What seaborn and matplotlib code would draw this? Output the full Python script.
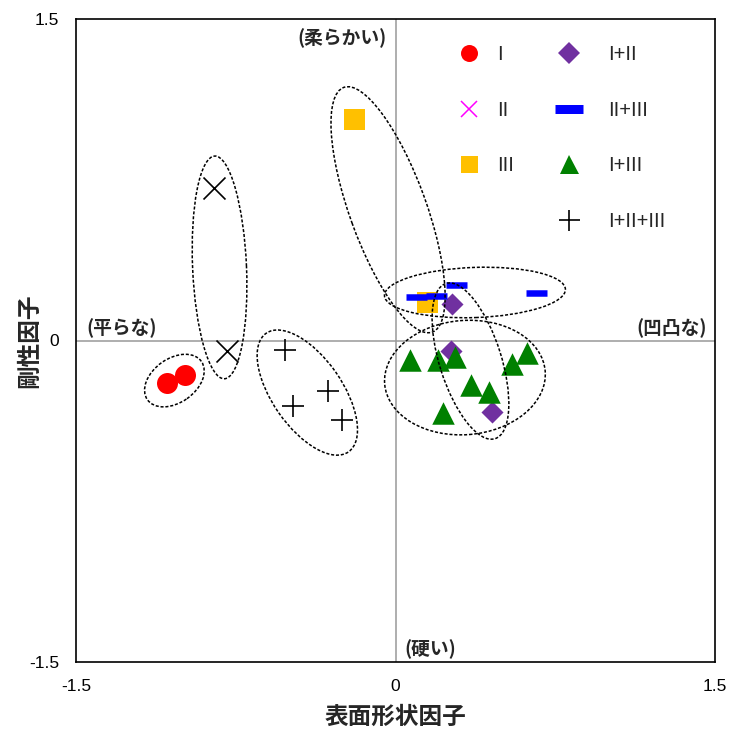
import matplotlib
matplotlib.use("Agg")
import matplotlib.pyplot as plt
from matplotlib.patches import Ellipse
from matplotlib.lines import Line2D
import seaborn as sns
import pandas as pd

sns.set_style("white")
plt.rcParams["font.family"] = ["Liberation Sans", "Noto Sans CJK JP"]
JP = "Noto Sans CJK JP"

# sample groups: factor scores (surface shape factor, rigidity factor)
g1_x = [-1.075, -0.986]
g1_y = [-0.196, -0.159]
g2_x = [-0.85, -0.793]
g2_y = [0.71, -0.047]
g3_x = [-0.197, 0.147]
g3_y = [1.033, 0.179]
g12_x = [0.266, 0.261, 0.452]
g12_y = [0.171, -0.047, -0.335]
g23_x = [0.097, 0.191, 0.282, 0.66]
g23_y = [0.202, 0.209, 0.258, 0.223]
g13_x = [0.069, 0.199, 0.277, 0.355, 0.438, 0.225, 0.546, 0.617]
g13_y = [-0.093, -0.093, -0.075, -0.207, -0.241, -0.338, -0.109, -0.058]
g123_x = [-0.521, -0.318, -0.482, -0.25]
g123_y = [-0.042, -0.237, -0.307, -0.369]

group_labels = ["I", "II", "III", "I+II", "II+III", "I+III", "I+II+III"]

# grouping ellipses: centre x, centre y, width, height, angle
ell_cx = [-1.038, -0.826, -0.414, -0.035, 0.373, 0.352, 0.326]
ell_cy = [-0.187, 0.341, -0.243, 0.610, 0.224, -0.096, -0.173]
ell_w = [0.31, 1.04, 0.675, 1.215, 0.85, 0.76, 0.756]
ell_h = [0.206, 0.253, 0.328, 0.36, 0.234, 0.29, 0.533]
ell_ang = [35, 92.5, -55, -70, 2, -72.3, 4.5]

W, H, DPI = 7.31, 7.31, 100
fig = plt.figure(figsize=(W, H), dpi=DPI)
ax = fig.add_axes([76 / 731, (731 - 662) / 731, 639 / 731, 643 / 731])

pt = 0.72  # points per pixel at 100 dpi

ax.axhline(0, color="#999999", lw=1.1, zorder=1)
ax.axvline(0, color="#999999", lw=1.1, zorder=1)

def scat(xs, ys, **kw):
    df = pd.DataFrame({"x": xs, "y": ys})
    sns.scatterplot(data=df, x="x", y="y", ax=ax, legend=False, zorder=3, **kw)

scat(g1_x, g1_y, marker="o", color="#FF0000", s=(21 * pt) ** 2, linewidth=0)
scat(g2_x, g2_y, marker="x", color="black", s=(22 * pt) ** 2, linewidth=1.2)
scat(g3_x, g3_y, marker="s", color="#FFC000", s=(21 * pt) ** 2, linewidth=0)
scat(g12_x, g12_y, marker="D", color="#7030A0", s=(15.6 * pt) ** 2, linewidth=0)
scat(g23_x, g23_y, marker="_", color="#0000FF", s=(21 * pt) ** 2, linewidth=6.5 * pt)
scat(g13_x, g13_y, marker="^", color="#008000", s=(22.5 * pt) ** 2, linewidth=0)
scat(g123_x, g123_y, marker="+", color="black", s=(22 * pt) ** 2, linewidth=1.2)

for cx, cy, w, h, a in zip(ell_cx, ell_cy, ell_w, ell_h, ell_ang):
    ax.add_patch(Ellipse((cx, cy), w, h, angle=a, fill=False, edgecolor="black",
                         lw=1.1, linestyle=(0, (2, 1.2)), zorder=4))

ax.set_xlim(-1.5, 1.5)
ax.set_ylim(-1.5, 1.5)
ticks = [-1.5, -1.0, -0.5, 0, 0.5, 1.0, 1.5]
tick_text = ["-1.5", "", "", "0", "", "", "1.5"]
ax.set_xticks(ticks)
ax.set_xticklabels(tick_text)
ax.set_yticks(ticks)
ax.set_yticklabels(tick_text)
ax.tick_params(axis="both", direction="in", length=5, width=1.1, labelsize=12.5,
               colors="black", pad=12)
for sp in ax.spines.values():
    sp.set_visible(True)
    sp.set_color("black")
    sp.set_linewidth(1.2)

ax.set_xlabel("表面形状因子", fontfamily=JP, fontweight="bold", fontsize=17, labelpad=8)
ax.set_ylabel("剛性因子", fontfamily=JP, fontweight="bold", fontsize=17)
ax.yaxis.set_label_coords(-0.055, 0.5)

ann = dict(fontfamily=JP, fontweight="bold", fontsize=13.5, va="center", zorder=5)
ax.text(-0.04, 1.411, "(柔らかい)", ha="right", **ann)
ax.text(-1.451, 0.056, "(平らな)", ha="left", **ann)
ax.text(1.46, 0.056, "(凹凸な)", ha="right", **ann)
ax.text(0.042, -1.44, "(硬い)", ha="left", **ann)

col1 = [
    Line2D([], [], ls="none", marker="o", color="#FF0000", ms=17 * pt, mew=0),
    Line2D([], [], ls="none", marker="x", color="#FF00FF", ms=16 * pt, mew=1.1),
    Line2D([], [], ls="none", marker="s", color="#FFC000", ms=17 * pt, mew=0),
]
col2 = [
    Line2D([], [], ls="none", marker="D", color="#7030A0", ms=16 * pt, mew=0),
    Line2D([], [], ls="none", marker="_", color="#0000FF", ms=28 * pt, mew=9 * pt),
    Line2D([], [], ls="none", marker="^", color="#008000", ms=19 * pt, mew=0),
    Line2D([], [], ls="none", marker="+", color="black", ms=21 * pt, mew=1.2),
]
leg_kw = dict(loc="upper left", bbox_transform=fig.transFigure, frameon=False,
              borderpad=0, borderaxespad=0, fontsize=14.5, labelspacing=1.82,
              handlelength=2.0, numpoints=1)
leg1 = ax.legend(col1, group_labels[:3], bbox_to_anchor=(449 / 731, 1 - 45 / 731),
                 handletextpad=0.4, **leg_kw)
ax.add_artist(leg1)
ax.legend(col2, group_labels[3:], bbox_to_anchor=(549 / 731, 1 - 45 / 731),
          handletextpad=0.95, **leg_kw)

fig.savefig("out.png", dpi=DPI)
